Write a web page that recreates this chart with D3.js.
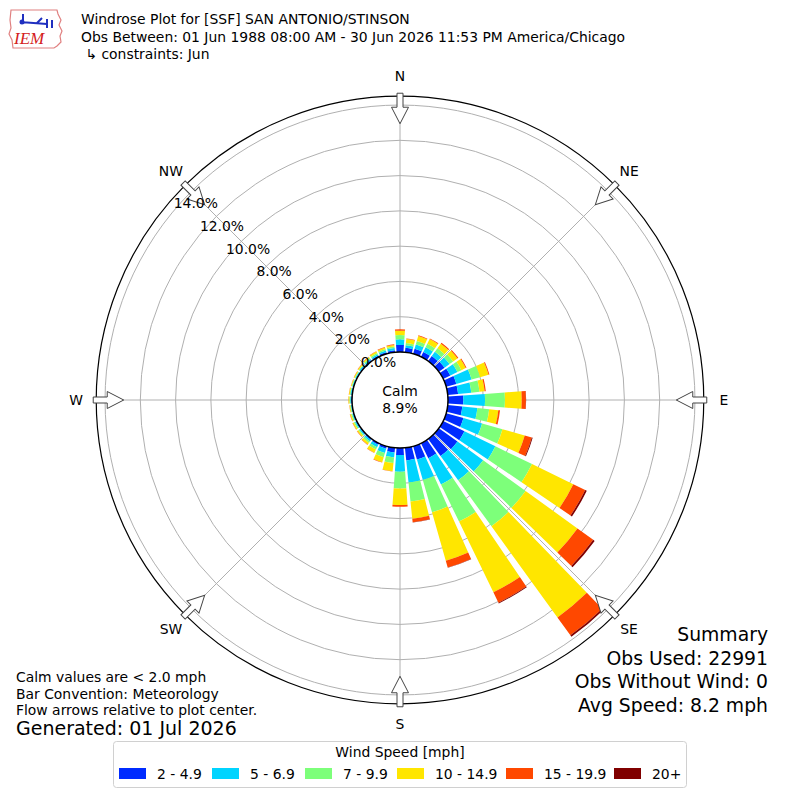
<!DOCTYPE html>
<html>
<head>
<meta charset="utf-8">
<script src="https://cdn.jsdelivr.net/npm/d3@7"></script>
<style>
  body { margin: 0; background: #fff; }
  text { font-family: "DejaVu Sans", sans-serif; fill: #000; }
</style>
</head>
<body>
<div id="chart"></div>
<script>
/* Data: percent of observations per direction and speed bin */
var directions = [0, 10, 20, 30, 40, 50, 60, 70, 80, 90, 100, 110, 120, 130, 140, 150, 160, 170,
	180, 190, 200, 210, 220, 230, 240, 250, 260, 270, 280, 290, 300, 310, 320, 330, 340, 350];

var speedBins = ["2 - 4.9", "5 - 6.9", "7 - 9.9", "10 - 14.9", "15 - 19.9", "20+"];

var bin2to5 = [0.40, 0.25, 0.30, 0.30, 0.35, 0.40, 0.45, 0.60, 0.59, 0.87, 0.83, 1.02, 1.34, 1.30, 1.20, 0.95, 0.78, 0.72,
	0.40, 0.27, 0.15, 0.10, 0.08, 0.06, 0.06, 0.05, 0.04, 0.05, 0.05, 0.04, 0.05, 0.06, 0.07, 0.08, 0.10, 0.12];
var bin5to7 = [0.32, 0.15, 0.25, 0.30, 0.30, 0.35, 0.45, 0.90, 0.75, 1.23, 0.86, 1.10, 1.95, 1.80, 1.70, 1.65, 1.22, 1.26,
	0.94, 0.28, 0.25, 0.15, 0.10, 0.07, 0.06, 0.05, 0.04, 0.05, 0.05, 0.05, 0.05, 0.06, 0.07, 0.08, 0.10, 0.12];
var bin7to10 = [0.24, 0.13, 0.20, 0.22, 0.25, 0.25, 0.25, 0.50, 0.47, 1.13, 0.67, 1.20, 2.31, 2.97, 3.22, 2.34, 1.90, 1.08,
	0.95, 0.32, 0.25, 0.15, 0.10, 0.07, 0.07, 0.06, 0.04, 0.05, 0.04, 0.04, 0.04, 0.05, 0.07, 0.08, 0.08, 0.09];
var bin10to15 = [0.25, 0.23, 0.30, 0.30, 0.32, 0.30, 0.27, 0.50, 0.29, 0.95, 0.52, 1.31, 2.60, 3.63, 6.38, 4.46, 2.85, 0.99,
	0.94, 0.47, 0.30, 0.20, 0.12, 0.08, 0.07, 0.06, 0.04, 0.05, 0.05, 0.04, 0.05, 0.06, 0.07, 0.09, 0.09, 0.09];
var bin15to20 = [0.08, 0.02, 0.04, 0.04, 0.07, 0.06, 0.05, 0.05, 0.07, 0.24, 0.10, 0.42, 0.75, 1.10, 1.25, 0.65, 0.40, 0.20,
	0.10, 0.02, 0.02, 0.02, 0.02, 0.02, 0.02, 0.02, 0.01, 0.01, 0.01, 0.01, 0.01, 0.02, 0.02, 0.02, 0.03, 0.03];
var bin20up = [0, 0, 0, 0, 0, 0, 0, 0, 0, 0.01, 0, 0.05, 0.10, 0.10, 0.10, 0.05, 0.02, 0.01,
	0, 0, 0, 0, 0, 0, 0, 0, 0, 0, 0, 0, 0, 0, 0, 0, 0, 0];

var ringTicks = [0, 2, 4, 6, 8, 10, 12, 14];
var compass = [
	{label: "N", deg: 0}, {label: "NE", deg: 45}, {label: "E", deg: 90}, {label: "SE", deg: 135},
	{label: "S", deg: 180}, {label: "SW", deg: 225}, {label: "W", deg: 270}, {label: "NW", deg: 315}
];
var calmPct = "8.9%";

var titleLines = [
	"Windrose Plot for [SSF] SAN ANTONIO/STINSON",
	"Obs Between: 01 Jun 1988 08:00 AM - 30 Jun 2026 11:53 PM America/Chicago",
	" \u21b3 constraints: Jun"
];
var noteLines = ["Calm values are < 2.0 mph", "Bar Convention: Meteorology", "Flow arrows relative to plot center."];
var summaryLines = ["Summary", "Obs Used: 22991", "Obs Without Wind: 0", "Avg Speed: 8.2 mph"];

var colors = ["#002bff", "#00d4ff", "#7dff7a", "#ffe600", "#ff4800", "#800000"];

/* Build table */
var series = [bin2to5, bin5to7, bin7to10, bin10to15, bin15to20, bin20up];
var rows = directions.map(function(dir, i) {
	var row = {dir: dir};
	speedBins.forEach(function(k, j) { row[k] = series[j][i]; });
	return row;
});
var stacked = d3.stack().keys(speedBins)(rows);

var width = 800;
var height = 800;
var cx = 400, cy = 400;
var calmR = 48;
var barHalf = 4.1;
var small = "13.9px";

/* Scale */
var rScale = d3.scaleLinear()
	.domain([0, 14.5])
	.range([calmR, calmR + 14.5 * 17.64]);
var rad = d => d * Math.PI / 180;

var svg = d3.select("#chart").append("svg")
	.attr("width", width)
	.attr("height", height);

/* Header logo */
var logo = svg.append("g");
logo.append("path")
	.attr("d", "M11,10 L57,10 L58,14 L61,20 L59,25 L62,31 L60,36 L61,42 L57,46 L54,48 L13,48 L12,40 L9,34 L11,28 L10,20 Z")
	.attr("fill", "#fff").attr("stroke", "#e08080").attr("stroke-width", 1.2);
logo.append("text").attr("x", 14).attr("y", 44)
	.style("font-family", "'Liberation Serif', serif").style("font-style", "italic")
	.style("font-size", "17px").style("fill", "#d42020").text("IEM");
logo.append("path")
	.attr("d", "M20,22 L47,24 M47,19 L47,28 M52,20 L52,28 M23,14 L23,24 M37,23 L42,18")
	.attr("stroke", "#2030c0").attr("stroke-width", 2).attr("fill", "none");
logo.append("circle").attr("cx", 22).attr("cy", 22).attr("r", 2.5).attr("fill", "#2030c0");

/* Header text */
svg.append("g").selectAll("text")
	.data(titleLines).enter()
	.append("text")
	.attr("x", 81)
	.attr("y", (d, i) => 24 + i * 17.5)
	.style("font-size", small)
	.style("white-space", "pre")
	.text(d => d);

var g = svg.append("g")
	.attr("transform", `translate(${cx}, ${cy})`);

/* Grid */
g.append("circle").attr("r", rScale(14.5)).attr("fill", "#fff").attr("stroke", "none");

g.selectAll(".ring")
	.data(ringTicks.slice(1)).enter()
	.append("circle")
	.attr("class", "ring")
	.attr("r", d => rScale(d))
	.attr("fill", "none")
	.attr("stroke", "#b0b0b0")
	.attr("stroke-width", 1);

g.selectAll(".spoke")
	.data(compass).enter()
	.append("line")
	.attr("class", "spoke")
	.attr("x1", 0).attr("y1", 0)
	.attr("x2", d => rScale(14.5) * Math.sin(rad(d.deg)))
	.attr("y2", d => -rScale(14.5) * Math.cos(rad(d.deg)))
	.attr("stroke", "#b0b0b0")
	.attr("stroke-width", 1);

/* Bars */
var arc = d3.arc()
	.innerRadius(d => rScale(d[0]))
	.outerRadius(d => rScale(d[1]))
	.startAngle(d => rad(d.data.dir - barHalf))
	.endAngle(d => rad(d.data.dir + barHalf));

g.selectAll(".layer")
	.data(stacked).enter()
	.append("g")
	.attr("class", "layer")
	.attr("fill", (d, i) => colors[i])
	.selectAll("path")
	.data(d => d.filter(s => s[1] > s[0])).enter()
	.append("path")
	.attr("d", arc);

/* Outer frame */
g.append("circle").attr("r", rScale(14.5)).attr("fill", "none").attr("stroke", "#000").attr("stroke-width", 1.2);

/* Calm circle */
g.append("circle").attr("r", calmR).attr("fill", "#fff").attr("stroke", "#000").attr("stroke-width", 1.5);
g.append("text").attr("x", 0).attr("y", -4).attr("text-anchor", "middle")
	.style("font-size", small).text("Calm");
g.append("text").attr("x", 0).attr("y", 13).attr("text-anchor", "middle")
	.style("font-size", small).text(calmPct);

/* Flow arrows */
var R = rScale(14.5);
var arrowPts = [[-3, -R - 3], [3, -R - 3], [3, -R + 11], [8.5, -R + 11], [0, -R + 27.5], [-8.5, -R + 11], [-3, -R + 11]];
g.selectAll(".arrow")
	.data(compass).enter()
	.append("polygon")
	.attr("class", "arrow")
	.attr("points", arrowPts.map(p => p.join(",")).join(" "))
	.attr("transform", d => `rotate(${d.deg})`)
	.attr("fill", "#fff")
	.attr("stroke", "#444")
	.attr("stroke-width", 1);

/* Ring labels */
var labelDeg = 311;
g.selectAll(".rlabel")
	.data(ringTicks).enter()
	.append("text")
	.attr("class", "rlabel")
	.attr("x", d => 0.98 * rScale(d) * Math.sin(rad(labelDeg)) + 14)
	.attr("y", d => -0.98 * rScale(d) * Math.cos(rad(labelDeg)) - 7)
	.attr("text-anchor", "middle")
	.attr("dy", "0.35em")
	.style("font-size", small)
	.text(d => d.toFixed(1) + "%");

/* Compass labels */
g.selectAll(".clabel")
	.data(compass).enter()
	.append("text")
	.attr("class", "clabel")
	.attr("x", d => 324 * Math.sin(rad(d.deg)))
	.attr("y", d => -324 * Math.cos(rad(d.deg)))
	.attr("text-anchor", "middle")
	.attr("dy", "0.35em")
	.style("font-size", small)
	.text(d => d.label);

/* Notes */
svg.append("g").selectAll("text")
	.data(noteLines).enter()
	.append("text")
	.attr("x", 16)
	.attr("y", (d, i) => 682 + i * 16.5)
	.style("font-size", small)
	.text(d => d);
svg.append("text").attr("x", 16).attr("y", 735)
	.style("font-size", "19px").text("Generated: 01 Jul 2026");

/* Summary */
svg.append("g").selectAll("text")
	.data(summaryLines).enter()
	.append("text")
	.attr("x", 768)
	.attr("y", (d, i) => 641 + i * 23.5)
	.attr("text-anchor", "end")
	.style("font-size", "18.8px")
	.text(d => d);

/* Legend */
var legend = svg.append("g");
legend.append("rect")
	.attr("x", 113.5).attr("y", 741.5).attr("width", 573).attr("height", 46).attr("rx", 3)
	.attr("fill", "#fff").attr("stroke", "#d0d0d0");
legend.append("text").attr("x", 400).attr("y", 757).attr("text-anchor", "middle")
	.style("font-size", small).text("Wind Speed [mph]");
var legendX = [119, 212, 305, 397, 506, 614];
var items = legend.selectAll(".item")
	.data(speedBins).enter()
	.append("g")
	.attr("class", "item")
	.attr("transform", (d, i) => `translate(${legendX[i]}, 768)`);
items.append("rect").attr("width", 27).attr("height", 11).attr("fill", (d, i) => colors[i]);
items.append("text").attr("x", 38).attr("y", 10.5).style("font-size", small).text(d => d);
</script>
</body>
</html>
